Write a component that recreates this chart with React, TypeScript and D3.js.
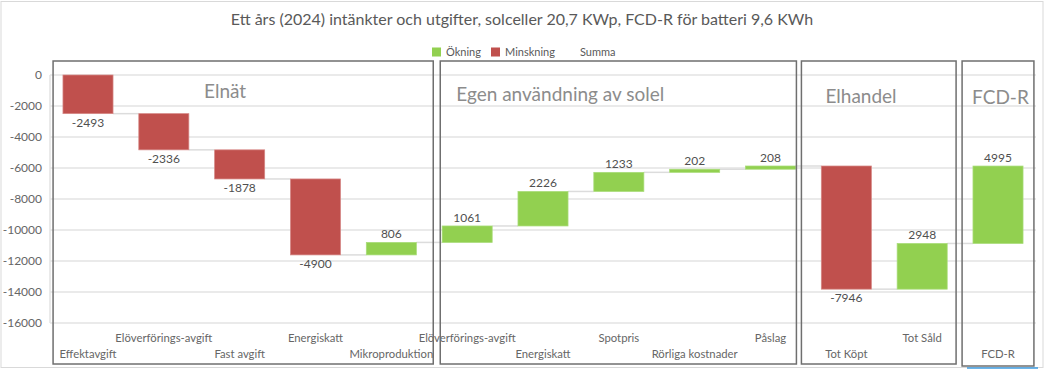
import React from "react";
import * as d3 from "d3";

// chart data
const categories = [
  "Effektavgift",
  "Elöverförings-avgift",
  "Fast avgift",
  "Energiskatt",
  "Mikroproduktion",
  "Elöverförings-avgift",
  "Energiskatt",
  "Spotpris",
  "Rörliga kostnader",
  "Påslag",
  "Tot Köpt",
  "Tot Såld",
  "FCD-R",
];
const values = [-2493, -2336, -1878, -4900, 806, 1061, 2226, 1233, 202, 208, -7946, 2948, 4995];
const yTicks = [0, -2000, -4000, -6000, -8000, -10000, -12000, -14000, -16000];

const groupNames = ["Elnät", "Egen användning av solel", "Elhandel", "FCD-R"];
const groupFirst = [0, 5, 10, 12];
const groupLast = [4, 9, 11, 12];

const legendNames = ["Ökning", "Minskning", "Summa"];

const W = 1047;
const H = 369;
const UP = "#92D050";
const DOWN = "#C0504D";
const FONT = "Lato, 'Open Sans', sans-serif";

export default function App() {
  const x = d3
    .scaleBand<number>()
    .domain(d3.range(categories.length))
    .range([50, 1036])
    .paddingInner(0.34)
    .paddingOuter(0.171);
  const y = d3.scaleLinear().domain([0, -16000]).range([75, 323]);

  const ends = Array.from(d3.cumsum(values));
  const starts = ends.map((e, i) => e - values[i]);

  // hand-placed group boxes in the original: nudges relative to the bands
  const step = x.step();
  const bandL = (i: number) => (x(i) as number) - (step - x.bandwidth()) / 2;
  const bandR = (i: number) => bandL(i) + step;
  const boxPadL = [3, 11, -7, 2];
  const boxPadR = [4, -12, -4, -2];
  const titleDx = [151, 16, 24, 10];
  const titleY = [98, 101, 103, 104];

  const legendX = [432, 491, 565];

  return (
    <svg
      width={W}
      height={H}
      style={{ position: "absolute", left: 0, top: 0, fontFamily: FONT }}
    >
      <rect x={0} y={0} width={W} height={H} fill="#fff" />
      <rect x={1} y={1.5} width={1042} height={366} fill="none" stroke="#d9d9d9" />
      <line x1={967} x2={1038} y1={368} y2={368} stroke="#3d9be0" strokeWidth={1.5} />

      <text x={522} y={25} textAnchor="middle" fontSize={16} fill="#595959">
        Ett års (2024) intänkter och utgifter, solceller 20,7 KWp, FCD-R för batteri 9,6 KWh
      </text>

      {/* legend */}
      {legendNames.map((n, i) => (
        <g key={n}>
          {i < 2 && (
            <rect x={legendX[i]} y={47.5} width={9} height={9} fill={i === 0 ? UP : DOWN} />
          )}
          <text x={legendX[i] + (i < 2 ? 14 : 15)} y={56} fontSize={11} fill="#595959">
            {n}
          </text>
        </g>
      ))}

      {/* grid + y axis */}
      {yTicks.map((t) => (
        <g key={t}>
          <line x1={50} x2={1036} y1={y(t)} y2={y(t)} stroke="#e3e3e3" strokeWidth={1.5} />
          <text x={42} y={y(t) + 4} textAnchor="end" fontSize={12} fill="#666">
            {t}
          </text>
        </g>
      ))}
      <line x1={50} x2={50} y1={y(0)} y2={y(-16000)} stroke="#e3e3e3" strokeWidth={1.5} />

      {/* connectors */}
      {values.slice(0, -1).map((v, i) => (
        <line
          key={"c" + i}
          x1={(x(i) as number) + x.bandwidth()}
          x2={x(i + 1) as number}
          y1={y(ends[i])}
          y2={y(ends[i])}
          stroke="#dcdcdc"
          strokeWidth={1.5}
        />
      ))}

      {/* bars */}
      {values.map((v, i) => {
        const top = y(Math.max(starts[i], ends[i]));
        const bot = y(Math.min(starts[i], ends[i]));
        return (
          <rect
            key={"b" + i}
            x={x(i)}
            y={top}
            width={x.bandwidth()}
            height={Math.max(bot - top, 1.5)}
            fill={v < 0 ? DOWN : UP}
            stroke={v < 0 ? "#d58785" : "#a8dc78"}
            strokeWidth={0.75}
          />
        );
      })}

      {/* data labels */}
      {values.map((v, i) => {
        const cx = (x(i) as number) + x.bandwidth() / 2;
        const ly = v < 0 ? y(ends[i]) + 13 : y(ends[i]) - 4;
        return (
          <text key={"l" + i} x={cx} y={ly} textAnchor="middle" fontSize={12} fill="#505050">
            {v}
          </text>
        );
      })}

      {/* category labels, staggered */}
      {categories.map((c, i) => (
        <text
          key={"k" + i}
          x={(x(i) as number) + x.bandwidth() / 2}
          y={i % 2 ? 342 : 358}
          textAnchor="middle"
          fontSize={11.3}
          fill="#666"
        >
          {c}
        </text>
      ))}

      {/* group boxes */}
      {groupNames.map((g, k) => {
        const l = bandL(groupFirst[k]) + boxPadL[k];
        const r = bandR(groupLast[k]) + boxPadR[k];
        return (
          <g key={g}>
            <rect
              x={l}
              y={61}
              width={r - l}
              height={k === 3 ? 305 : 303}
              fill="none"
              stroke="#6f6f6f"
              strokeWidth={1.5}
            />
            <text x={l + titleDx[k]} y={titleY[k]} fontSize={19} fill="#8c8c8c">
              {g}
            </text>
          </g>
        );
      })}
    </svg>
  );
}
